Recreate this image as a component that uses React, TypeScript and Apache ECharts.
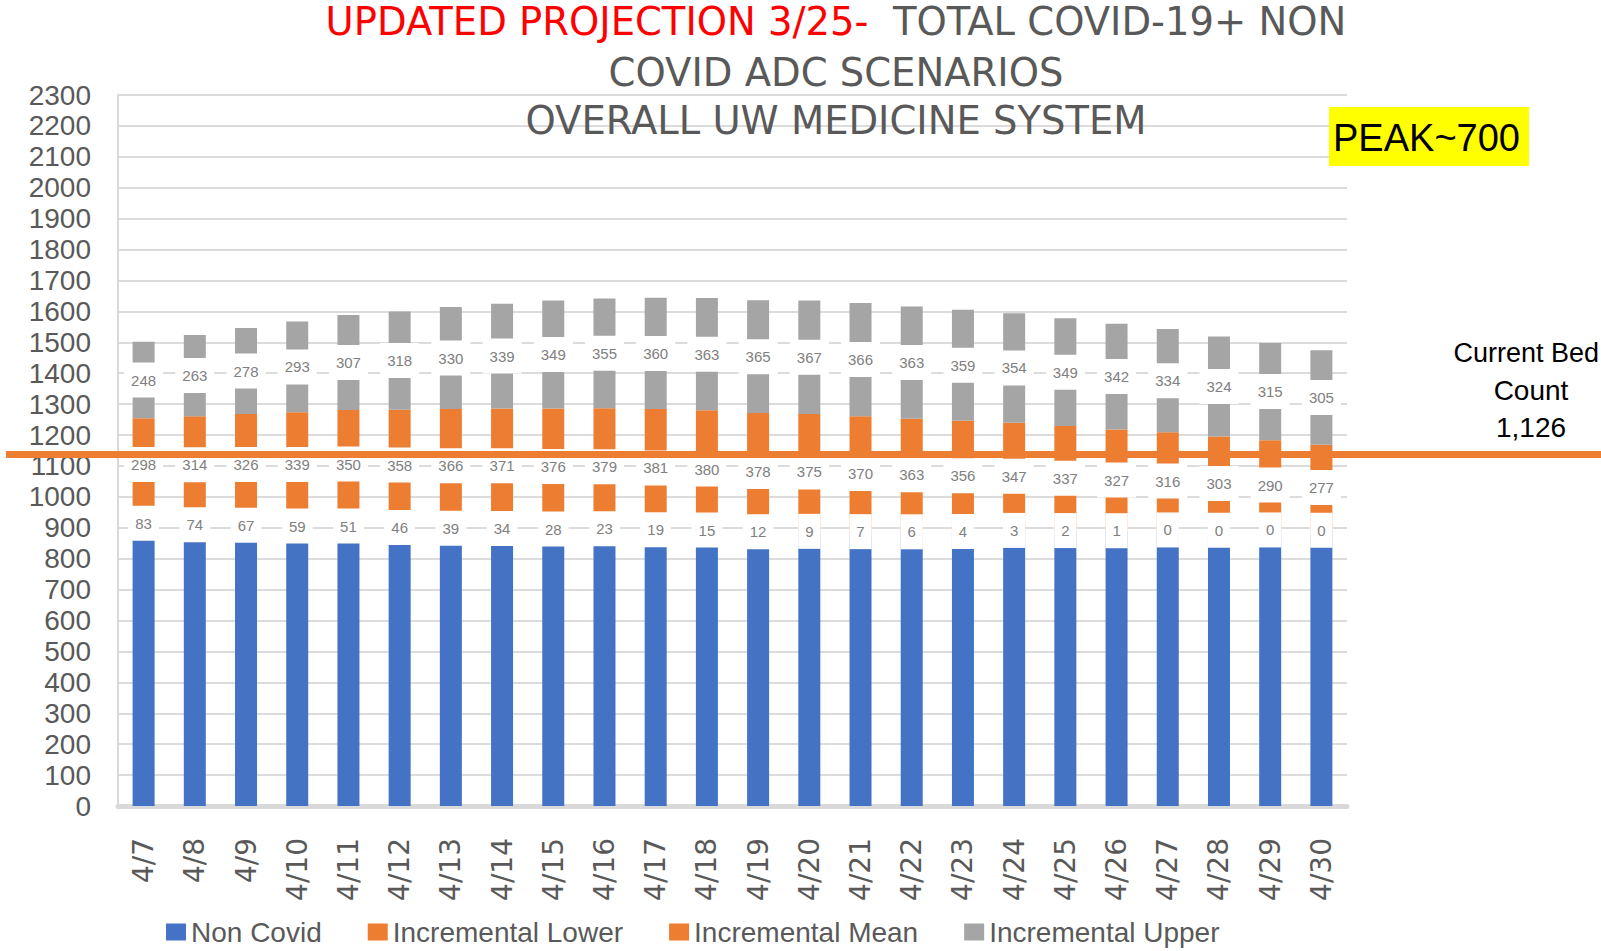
import React, { useEffect, useRef } from "react";
import * as echarts from "echarts";

const categories = [
  "4/7", "4/8", "4/9", "4/10", "4/11", "4/12", "4/13", "4/14", "4/15", "4/16", "4/17", "4/18",
  "4/19", "4/20", "4/21", "4/22", "4/23", "4/24", "4/25", "4/26", "4/27", "4/28", "4/29", "4/30",
];
const nonCovid = [873, 873, 875, 876, 880, 878, 879, 881, 882, 885, 884, 885, 881, 884, 884, 884, 886, 890, 890, 890, 893, 892, 893, 892];
const incLower = [83, 74, 67, 59, 51, 46, 39, 34, 28, 23, 19, 15, 12, 9, 7, 6, 4, 3, 2, 1, 0, 0, 0, 0];
const incMean = [298, 314, 326, 339, 350, 358, 366, 371, 376, 379, 381, 380, 378, 375, 370, 363, 356, 347, 337, 327, 316, 303, 290, 277];
const incUpper = [248, 263, 278, 293, 307, 318, 330, 339, 349, 355, 360, 363, 365, 367, 366, 363, 359, 354, 349, 342, 334, 324, 315, 305];

const seriesNames = ["Non Covid", "Incremental Lower", "Incremental Mean", "Incremental Upper"];
const yMax = 2300;
const yStep = 100;
const bedLineLevel = 1137;
const bedCountLines = ["Current Bed", "Count", "1,126"];
const peakText = "PEAK~700";
const titleRed = "UPDATED PROJECTION 3/25-";
const titleLine1Rest = "  TOTAL COVID-19+ NON";
const titleLine2 = "COVID ADC SCENARIOS";
const titleLine3 = "OVERALL UW MEDICINE SYSTEM";

const BLUE = "#4472C4";
const ORANGE = "#ED7D31";
const GRAY = "#A5A5A5";
const TEXT = "#595959";
const GRID = "#dcdcdc";
const SANS = "'Liberation Sans', Arial, sans-serif";
const WIDE = "'DejaVu Sans', Verdana, sans-serif";

const labelCfg = {
  show: true,
  position: "inside",
  color: "#808080",
  fontSize: 15,
  fontFamily: SANS,
  backgroundColor: "#ffffff",
  padding: [10, 7],
  textBorderWidth: 0,
};

export default function App() {
  const ref = useRef<HTMLDivElement>(null);

  useEffect(() => {
    document.body.style.margin = "0";
    document.body.style.overflow = "hidden";
    const chart = echarts.init(ref.current as HTMLDivElement, null, { renderer: "svg" });
    chart.setOption({
      animation: false,
      backgroundColor: "#ffffff",
      grid: { left: 118, right: 254, top: 95, bottom: 145, containLabel: false, outerBoundsMode: "none" },
      legend: {
        left: 161,
        top: 913,
        icon: "rect",
        itemWidth: 20,
        itemHeight: 17,
        itemGap: 46,
        data: seriesNames,
        textStyle: { fontSize: 28, fontFamily: SANS, color: TEXT },
      },
      xAxis: {
        type: "category",
        data: categories,
        axisLine: { show: true, lineStyle: { color: "#d9d9d9", width: 5 } },
        axisTick: { show: false },
        axisLabel: { interval: 0, rotate: 90, margin: 32, fontSize: 28, fontFamily: WIDE, color: TEXT },
      },
      yAxis: {
        type: "value",
        min: 0,
        max: yMax,
        interval: yStep,
        axisLine: { show: true, lineStyle: { color: "#d9d9d9", width: 2 } },
        axisTick: { show: false },
        splitLine: { show: true, lineStyle: { color: GRID, width: 2 } },
        axisLabel: {
          margin: 27,
          fontSize: 28,
          fontFamily: SANS,
          color: TEXT,
          formatter: (v: number) => String(v),
        },
      },
      series: [
        { name: seriesNames[0], type: "bar", stack: "total", data: nonCovid, barWidth: 22, itemStyle: { color: BLUE }, z: 2 },
        { name: seriesNames[1], type: "bar", stack: "total", data: incLower, barWidth: 22, itemStyle: { color: ORANGE }, label: labelCfg, z: 3 },
        { name: seriesNames[2], type: "bar", stack: "total", data: incMean, barWidth: 22, itemStyle: { color: ORANGE }, label: labelCfg, z: 2 },
        { name: seriesNames[3], type: "bar", stack: "total", data: incUpper, barWidth: 22, itemStyle: { color: GRAY }, label: labelCfg, z: 2 },
      ],
    });

    const lineY = chart.convertToPixel({ yAxisIndex: 0 }, bedLineLevel) as number;
    const titleFont = { fontSize: 38.5, fontFamily: WIDE };
    chart.setOption({
      graphic: [
        {
          type: "text",
          x: 836,
          y: 21,
          z: 100,
          style: {
            text: `{r|${titleRed}}{g|${titleLine1Rest}}`,
            align: "center",
            verticalAlign: "middle",
            rich: {
              r: { fill: "#FF0000", ...titleFont },
              g: { fill: TEXT, ...titleFont },
            },
          },
        },
        {
          type: "text",
          x: 836,
          y: 72,
          z: 100,
          style: { text: titleLine2, fill: TEXT, ...titleFont, align: "center", verticalAlign: "middle" },
        },
        {
          type: "text",
          x: 836,
          y: 120,
          z: 100,
          style: { text: titleLine3, fill: TEXT, ...titleFont, align: "center", verticalAlign: "middle" },
        },
        {
          type: "rect",
          z: 100,
          shape: { x: 1329, y: 107, width: 200, height: 59 },
          style: { fill: "#FFFF00" },
        },
        {
          type: "text",
          x: 1333,
          y: 138,
          z: 101,
          style: { text: peakText, fill: "#000000", fontSize: 38, fontFamily: SANS, align: "left", verticalAlign: "middle" },
        },
        ...bedCountLines.map((t, i) => ({
          type: "text",
          x: i === 0 ? 1599 : 1531,
          y: 353 + i * 37,
          z: 100,
          style: {
            text: t,
            fill: "#000000",
            fontSize: i === 0 ? 27 : 28,
            fontFamily: SANS,
            align: i === 0 ? "right" : "center",
            verticalAlign: "middle",
          },
        })),
        {
          type: "line",
          z: 100,
          shape: { x1: 6, y1: lineY, x2: 1601, y2: lineY },
          style: { stroke: ORANGE, lineWidth: 7 },
        },
      ],
    });

    return () => chart.dispose();
  }, []);

  return <div ref={ref} style={{ width: 1601, height: 951 }} />;
}
